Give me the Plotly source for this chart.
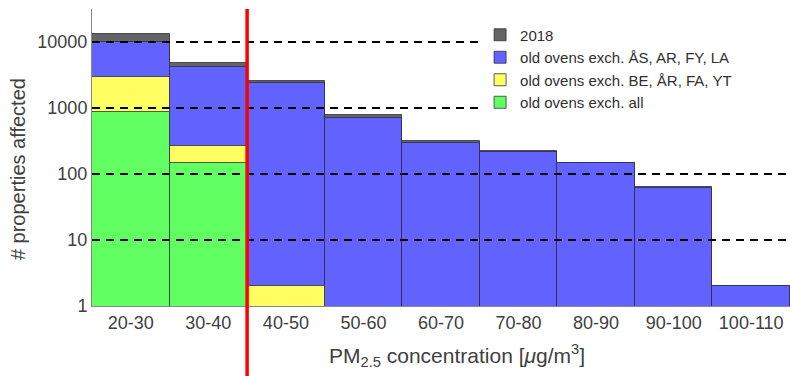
import plotly.graph_objects as go

categories = ["20-30", "30-40", "40-50", "50-60", "60-70", "70-80", "80-90", "90-100", "100-110"]
total_2018 = [13200, 4880, 2570, 783, 318, 223, 148, 63, 2]
exch_AS_AR_FY_LA = [10000, 4230, 2370, 715, 300, 215, 145, 62, 2]
exch_BE_AR_FA_YT = [2980, 270, 2, None, None, None, None, None, None]
exch_all = [860, 147, None, None, None, None, None, None, None]

series_names = ["2018", "old ovens exch. ÅS, AR, FY, LA", "old ovens exch. BE, ÅR, FA, YT", "old ovens exch. all"]
series_values = [total_2018, exch_AS_AR_FY_LA, exch_BE_AR_FA_YT, exch_all]
series_colors = ["#646464", "#6262FF", "#FFFF62", "#62FF62"]

grid_values = [10, 100, 1000, 10000]
y_ticks = [1, 10, 100, 1000, 10000]
threshold_position = 1.5  # boundary between 30-40 and 40-50

legend_x, legend_top, legend_bottom = 0.556, 0.968, 0.64

fig = go.Figure()
for name, vals, col in zip(series_names, series_values, series_colors):
    fig.add_trace(go.Bar(
        x=categories, y=vals, name=name, width=1,
        marker=dict(color=col, line=dict(color="rgba(40,40,60,0.75)", width=1)),
    ))

shapes = []
for g in grid_values:
    shapes.append(dict(type="line", xref="paper", yref="y", x0=0, x1=1, y0=g, y1=g,
                       line=dict(color="black", width=2, dash="8px,6px"), layer="above"))
# white legend box background spanning to the right edge
shapes.append(dict(type="rect", xref="paper", yref="paper", x0=legend_x, x1=1,
                   y0=legend_bottom, y1=legend_top, fillcolor="white", line=dict(width=0),
                   layer="above"))
shapes.append(dict(type="line", xref="x", yref="paper", x0=threshold_position, x1=threshold_position,
                   y0=-0.3, y1=1, line=dict(color="#FF0000", width=3.5), layer="above"))

annotations = [
    dict(text="# properties affected", textangle=-90, xref="paper", yref="paper",
         x=-0.106, y=0.461, xanchor="center", yanchor="middle", showarrow=False,
         font=dict(size=20, color="#404040")),
    dict(text="PM<sub>2.5</sub> concentration [<i>μ</i>g/m<sup>3</sup>]", xref="paper", yref="paper",
         x=0.523, y=-0.165, xanchor="center", yanchor="middle", showarrow=False,
         font=dict(size=21, color="#404040")),
]

fig.update_layout(
    width=790, height=376,
    margin=dict(l=92, r=0, t=9, b=70, autoexpand=False),
    paper_bgcolor="white", plot_bgcolor="white",
    barmode="overlay", bargap=0,
    font=dict(family="Arial, Liberation Sans, sans-serif", color="#404040"),
    shapes=shapes,
    annotations=annotations,
    legend=dict(x=legend_x, y=legend_top, xanchor="left", yanchor="top",
                bgcolor="white", font=dict(size=15, color="#303030"),
                tracegroupgap=0, itemwidth=30),
    showlegend=True,
)
fig.update_xaxes(
    automargin=False,
    showgrid=False, showline=True, linecolor="#888888", linewidth=1,
    tickfont=dict(size=18), ticks="",
)
fig.update_yaxes(
    automargin=False,
    type="log", range=[0, 4.5], showgrid=False, showline=True, linecolor="#888888", linewidth=1,
    tickvals=y_ticks, ticktext=[str(v) for v in y_ticks], tickfont=dict(size=18), ticks="",
)

fig.write_html("out.html", config={"displayModeBar": False},
               post_script="document.body.style.margin='0';")
